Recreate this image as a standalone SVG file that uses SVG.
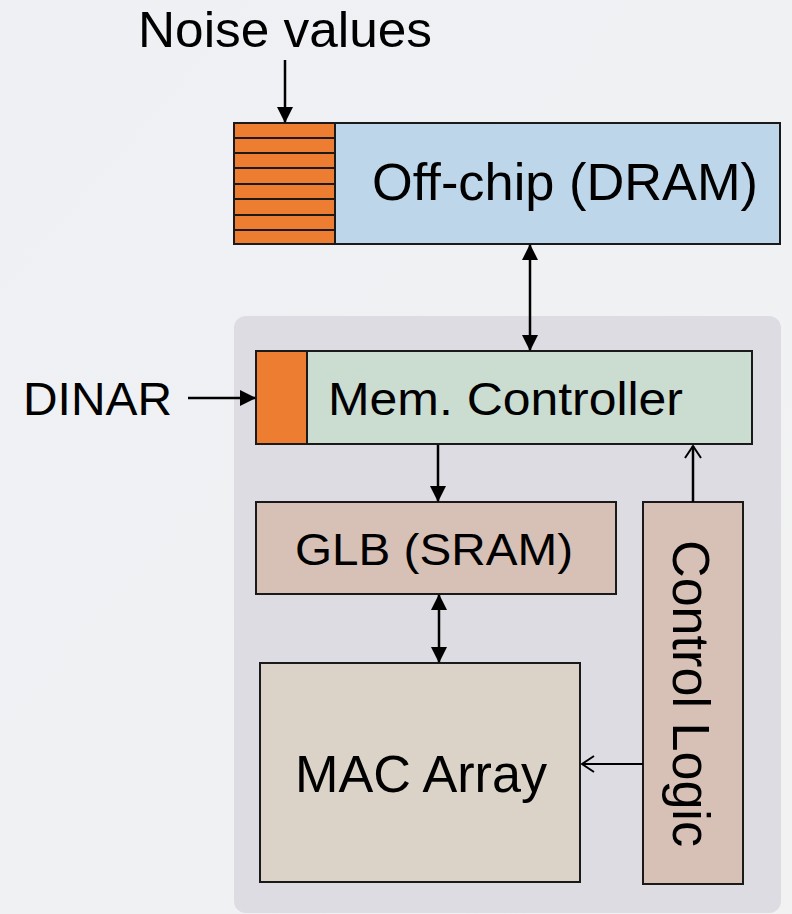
<svg xmlns="http://www.w3.org/2000/svg" width="792" height="914" viewBox="0 0 792 914">
<defs>
<linearGradient id="bg" x1="0" y1="0" x2="1" y2="1">
<stop offset="0" stop-color="#eef0f4"/>
<stop offset="1" stop-color="#f2f2f2"/>
</linearGradient>
<marker id="fa" viewBox="0 0 16 16" refX="15" refY="8" markerWidth="16" markerHeight="16" markerUnits="userSpaceOnUse" orient="auto-start-reverse">
<path d="M0,0 L16,8 L0,16 Z" fill="#000"/>
</marker>
<marker id="oa" viewBox="0 0 14 18" refX="13" refY="9" markerWidth="14" markerHeight="18" markerUnits="userSpaceOnUse" orient="auto">
<path d="M1,1 L13,9 L1,17" fill="none" stroke="#000" stroke-width="2"/>
</marker>
</defs>
<style>
.box{stroke:#1a1a1a;stroke-width:2}
.lbl{font-family:"Liberation Sans",Arial,sans-serif;fill:#000}
.ln{stroke:#000;stroke-width:2.5;fill:none}
.ln2{stroke:#000;stroke-width:2;fill:none}
</style>
<rect width="792" height="914" fill="url(#bg)"/>
<rect id="chip" x="234" y="316" width="547" height="597" rx="12" fill="#dcdce2"/>

<g id="noise-label">
<text class="lbl" x="138" y="47" font-size="50" textLength="294" lengthAdjust="spacingAndGlyphs">Noise values</text>
</g>

<g id="offchip">
<rect class="box" x="335" y="123" width="445" height="121" fill="#bed6e9"/>
<text class="lbl" x="372" y="200" font-size="52" textLength="386" lengthAdjust="spacingAndGlyphs">Off-chip (DRAM)</text>
</g>

<g id="noise-buffer">
<rect class="box" x="234" y="123" width="101" height="121" fill="#ed7d31"/>
<path d="M234,138 H335 M234,153 H335 M234,168 H335 M234,184 H335 M234,199 H335 M234,215 H335 M234,230 H335" stroke="#1a1a1a" stroke-width="2"/>
</g>

<g id="dinar-label">
<text class="lbl" x="23" y="415" font-size="46" textLength="149" lengthAdjust="spacingAndGlyphs">DINAR</text>
</g>

<g id="memctrl">
<rect class="box" x="307" y="351" width="445" height="93" fill="#cbdcd1"/>
<rect class="box" x="256" y="351" width="51" height="93" fill="#ed7d31"/>
<text class="lbl" x="328" y="415" font-size="46" textLength="355" lengthAdjust="spacingAndGlyphs">Mem. Controller</text>
</g>

<g id="glb">
<rect class="box" x="256" y="502" width="360" height="92" fill="#d7c0b5"/>
<text class="lbl" x="295" y="565" font-size="45" textLength="278" lengthAdjust="spacingAndGlyphs">GLB (SRAM)</text>
</g>

<g id="mac">
<rect class="box" x="260" y="663" width="320" height="219" fill="#dbd3c7"/>
<text class="lbl" x="295" y="792" font-size="51" textLength="252" lengthAdjust="spacingAndGlyphs">MAC Array</text>
</g>

<g id="control">
<rect class="box" x="643" y="502" width="100" height="382" fill="#d7c0b5"/>
<text class="lbl" transform="translate(673,540) rotate(90)" x="0" y="0" font-size="51" textLength="307" lengthAdjust="spacingAndGlyphs">Control Logic</text>
</g>

<g id="connectors">
<line class="ln" x1="285" y1="60" x2="285" y2="122" marker-end="url(#fa)"/>
<line class="ln" x1="530" y1="245" x2="530" y2="350" marker-start="url(#fa)" marker-end="url(#fa)"/>
<line class="ln" x1="188" y1="398" x2="255" y2="398" marker-end="url(#fa)"/>
<line class="ln" x1="438" y1="445" x2="438" y2="501" marker-end="url(#fa)"/>
<line class="ln" x1="439" y1="595" x2="439" y2="662" marker-start="url(#fa)" marker-end="url(#fa)"/>
<line class="ln" x1="693" y1="502" x2="693" y2="446" marker-end="url(#oa)"/>
<line class="ln2" x1="643" y1="764" x2="582" y2="764" marker-end="url(#oa)"/>
</g>
</svg>
